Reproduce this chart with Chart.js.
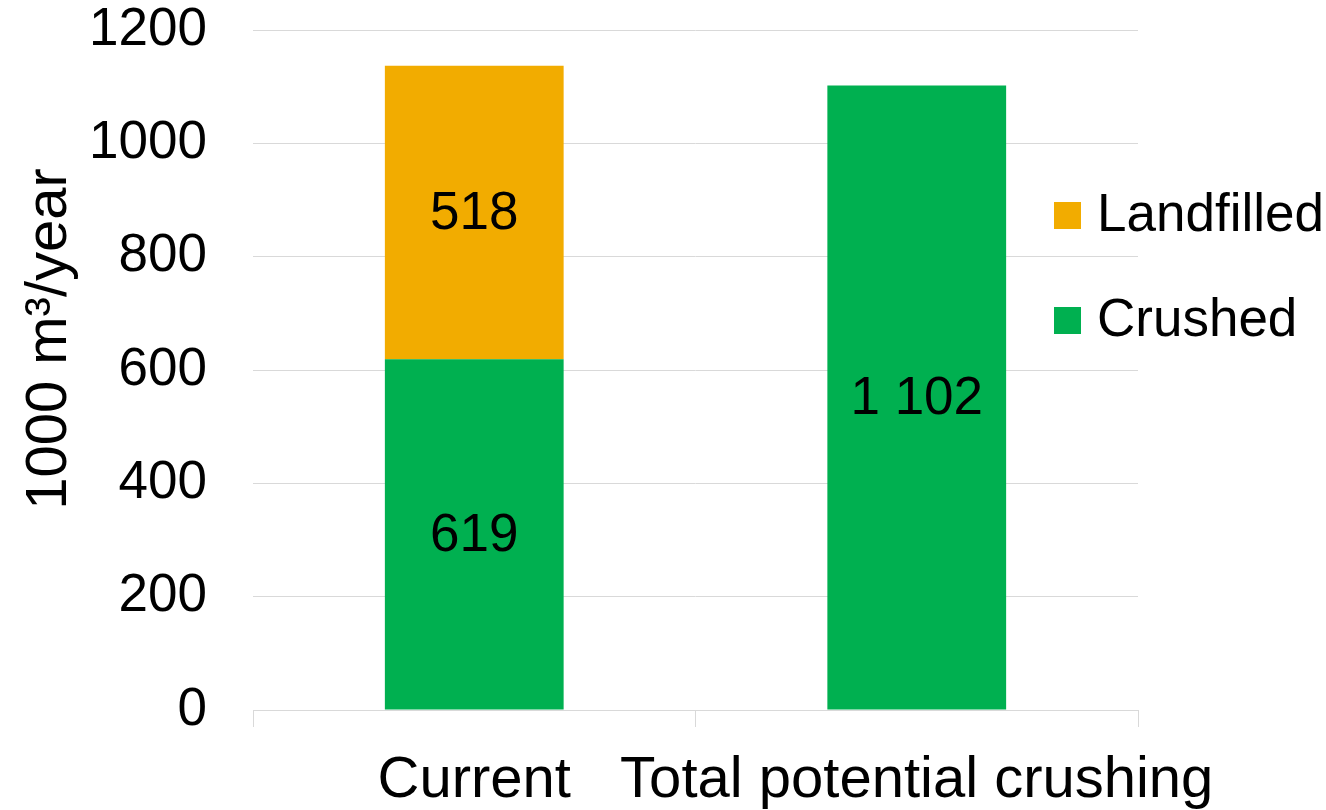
<!DOCTYPE html>
<html>
<head>
<meta charset="utf-8">
<script src="https://cdn.jsdelivr.net/npm/chart.js@4.4.1/dist/chart.umd.min.js"></script>
<style>
  html, body { margin: 0; padding: 0; background: #ffffff; }
  #wrap { width: 1326px; height: 810px; position: relative; }
</style>
</head>
<body>
<div id="wrap"><canvas id="c" width="1326" height="810"></canvas></div>
<script>
const categories = ['Current', 'Total potential crushing'];
const crushedValues = [619, 1102];
const landfilledValues = [518, null];
const seriesNames = ['Crushed', 'Landfilled'];
const yTitle = '1000 m\u00B3/year';
const yMin = 0, yMax = 1200, yStep = 200;

const FONT = "'Liberation Sans', Arial, sans-serif";
const GREEN = '#00B050';
const ORANGE = '#F2AC00';
const GRID = '#D9D9D9';

function fmt(v) {
  return String(v).replace(/\B(?=(\d{3})+(?!\d))/g, ' ');
}

const dataLabelPlugin = {
  id: 'dataLabels',
  afterDatasetsDraw(chart) {
    const ctx = chart.ctx;
    ctx.save();
    ctx.font = '53px ' + FONT;
    ctx.fillStyle = '#000000';
    ctx.textAlign = 'center';
    ctx.textBaseline = 'middle';
    chart.data.datasets.forEach((ds, di) => {
      const meta = chart.getDatasetMeta(di);
      meta.data.forEach((el, i) => {
        const v = ds.data[i];
        if (v === null || v === undefined) return;
        const p = el.getProps(['x', 'y', 'base'], true);
        ctx.fillText(fmt(v), p.x, (p.y + p.base) / 2 + 2);
      });
    });
    ctx.restore();
  }
};

const extrasPlugin = {
  id: 'extras',
  afterDraw(chart) {
    const ctx = chart.ctx;
    const area = chart.chartArea;
    ctx.save();
    // y axis title
    ctx.font = '58px ' + FONT;
    ctx.fillStyle = '#000000';
    ctx.textAlign = 'center';
    ctx.textBaseline = 'middle';
    ctx.translate(50, 339);
    ctx.rotate(-Math.PI / 2);
    ctx.fillText(yTitle, 0, 0);
    ctx.restore();

    // legend (reverse order: Landfilled on top)
    ctx.save();
    ctx.font = '53px ' + FONT;
    ctx.textAlign = 'left';
    ctx.textBaseline = 'middle';
    const items = chart.data.datasets.map((d) => ({ label: d.label, color: d.backgroundColor })).reverse();
    const x0 = area.right - 84;
    const yStart = 215.5;
    const gap = 105;
    items.forEach((it, k) => {
      const cy = yStart + k * gap;
      ctx.fillStyle = it.color;
      ctx.fillRect(x0, cy - 13.5, 27, 27);
      ctx.fillStyle = '#000000';
      ctx.fillText(it.label, x0 + 43, cy + 1);
    });
    ctx.restore();
  }
};

new Chart(document.getElementById('c'), {
  type: 'bar',
  data: {
    labels: categories,
    datasets: [
      { label: seriesNames[0], data: crushedValues, backgroundColor: GREEN, borderWidth: 0 },
      { label: seriesNames[1], data: landfilledValues, backgroundColor: ORANGE, borderWidth: 0 }
    ]
  },
  options: {
    responsive: false,
    animation: false,
    devicePixelRatio: 1,
    layout: { padding: { top: 30, right: 188, left: 0, bottom: 0 } },
    plugins: {
      legend: { display: false },
      tooltip: { enabled: false },
      title: { display: false }
    },
    datasets: {
      bar: { categoryPercentage: 1.0, barPercentage: 0.404 }
    },
    scales: {
      x: {
        stacked: true,
        grid: {
          display: true,
          offset: true,
          drawOnChartArea: false,
          drawTicks: true,
          tickLength: 17,
          color: GRID,
          lineWidth: 1
        },
        border: { display: true, color: GRID, width: 1 },
        ticks: {
          color: '#000000',
          font: { family: FONT, size: 58 },
          padding: 19,
          maxRotation: 0,
          autoSkip: false
        },
        afterFit(scale) {
          scale.height = 100;
          scale.paddingLeft = 0;
          scale.paddingRight = 0;
        }
      },
      y: {
        stacked: true,
        min: yMin,
        max: yMax,
        grid: { color: GRID, lineWidth: 1, drawTicks: false },
        border: { display: false },
        ticks: {
          stepSize: yStep,
          color: '#000000',
          font: { family: FONT, size: 53 },
          padding: 46,
          callback: (v) => String(v)
        },
        title: { display: false },
        afterFit(scale) {
          scale.width = 253;
          scale.paddingTop = 0;
          scale.paddingBottom = 0;
        }
      }
    }
  },
  plugins: [dataLabelPlugin, extrasPlugin]
});
</script>
</body>
</html>
